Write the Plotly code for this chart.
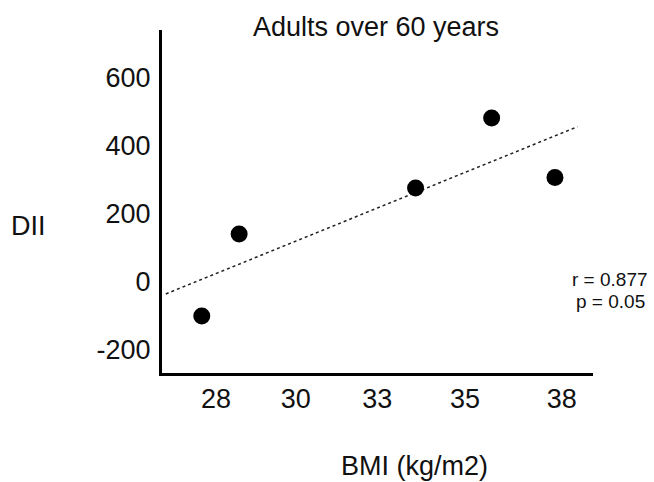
import numpy as np
import plotly.graph_objects as go

# Data
bmi = [27.59, 28.67, 33.77, 35.97, 37.80]
dii = [-100, 141, 276, 482, 307]
x_tick_vals = [28, 30.31, 32.66, 35.2, 38]
x_tick_text = ["28", "30", "33", "35", "38"]
y_tick_vals = [-200, 0, 200, 400, 600]
y_tick_text = ["-200", "0", "200", "400", "600"]
title_text = "Adults over 60 years"
x_title = "BMI (kg/m2)"
y_title = "DII"
stats_lines = ["r = 0.877", "p = 0.05"]
fit_x_range = [26.55, 38.45]

slope, intercept = np.polyfit(bmi, dii, 1)
fit_x = np.array(fit_x_range)
fit_y = slope * fit_x + intercept

FONT = "Liberation Sans, Arial, sans-serif"
W, H = 654, 482
L, R, T, B = 162, 61, 30, 109

def px(xp):
    return (xp - L) / (W - L - R)

def py(yp):
    return (H - B - yp) / (H - T - B)

fig = go.Figure()
fig.add_trace(go.Scatter(x=fit_x, y=fit_y, mode="lines",
                         line=dict(color="#222", width=1.5, dash="dot"),
                         hoverinfo="skip", showlegend=False))
fig.add_trace(go.Scatter(x=bmi, y=dii, mode="markers",
                         marker=dict(color="black", size=17),
                         showlegend=False))

fig.update_layout(
    width=W, height=H,
    margin=dict(l=L, r=R, t=T, b=B),
    paper_bgcolor="white", plot_bgcolor="white",
    font=dict(family=FONT, color="#111"),
    title=dict(text=title_text, x=376 / W, xanchor="center",
               y=1 - 27 / H, yanchor="middle",
               font=dict(size=27, family=FONT, color="#111")),
    xaxis=dict(range=[26.44, 38.9], showgrid=False, zeroline=False,
               showline=True, linecolor="black", linewidth=3,
               tickmode="array", tickvals=x_tick_vals, ticktext=x_tick_text,
               ticks="", ticklabelstandoff=0,
               tickfont=dict(size=27, family=FONT, color="#111")),
    yaxis=dict(range=[-268, 741], showgrid=False, zeroline=False,
               showline=True, linecolor="black", linewidth=3,
               tickmode="array", tickvals=y_tick_vals, ticktext=y_tick_text,
               ticks="", ticklabelstandoff=3,
               tickfont=dict(size=27, family=FONT, color="#111")),
)

fig.add_annotation(text=y_title, xref="paper", yref="paper",
                   x=px(28), y=py(226), xanchor="center", yanchor="middle",
                   showarrow=False, font=dict(size=27, family=FONT, color="#111"))
fig.add_annotation(text=x_title, xref="paper", yref="paper",
                   x=px(414), y=py(466), xanchor="center", yanchor="middle",
                   showarrow=False, font=dict(size=27, family=FONT, color="#111"))
for i, line in enumerate(stats_lines):
    fig.add_annotation(text=line, xref="paper", yref="paper",
                       x=px(610), y=py(279 + 22 * i), xanchor="center", yanchor="middle",
                       showarrow=False, font=dict(size=19, family=FONT, color="#111"))

fig.write_html("out.html", config={"displayModeBar": False},
               post_script="document.body.style.margin='0px';document.body.style.overflow='hidden';")
